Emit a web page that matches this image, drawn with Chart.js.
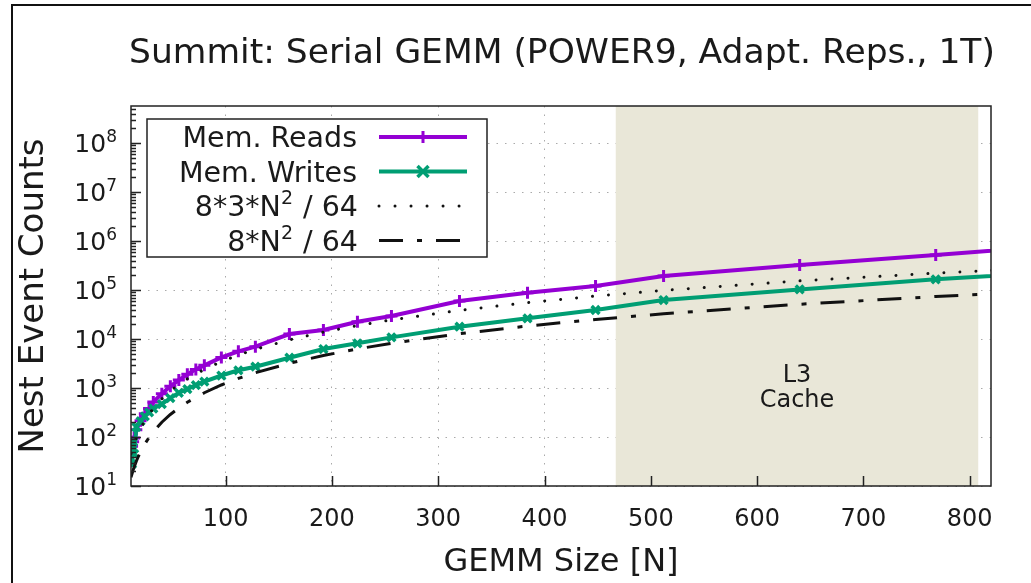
<!DOCTYPE html>
<html>
<head>
<meta charset="utf-8">
<title>Summit: Serial GEMM</title>
<script src="https://cdn.jsdelivr.net/npm/chart.js@4.4.0/dist/chart.umd.min.js"></script>
<style>
  html, body { margin: 0; padding: 0; background: #fff; }
  #wrap { width: 1031px; height: 583px; }
</style>
</head>
<body>
<div id="wrap"><canvas id="chart" width="1031" height="583"></canvas></div>
<script>
// measured GEMM sizes and counted events
const sizes = [12, 13, 14, 16, 20, 24, 28, 32, 40, 48, 56, 64, 72, 80, 96, 112, 128,
               160, 192, 224, 256, 320, 384, 448, 512, 640, 768, 896];
const memReads = [65, 80, 95, 140, 215, 300, 380, 520, 760, 1080, 1450, 1900, 2400, 2900, 4200, 5600, 6970,
                  12650, 15270, 22540, 29400, 59700, 88300, 120800, 193000, 324000, 517000, 840000];
const memWrites = [28, 80, 45, 160, 210, 265, 320, 380, 470, 620, 800, 950, 1150, 1350, 1800, 2300, 2720,
                   4150, 6250, 8170, 10800, 17800, 26400, 39100, 62500, 103000, 165000, 243000];

// reference curves (8*3*N^2/64 and 8*N^2/64)
const fitSizes = [11, 13, 14, 16, 18, 20, 24, 28, 32, 40, 48, 56, 64, 80, 96, 112, 128,
                  160, 192, 224, 256, 320, 384, 448, 512, 640, 768, 896];
const readModel = [45.4, 63.4, 73.5, 96, 121.5, 150, 216, 294, 384, 600, 864, 1176, 1536, 2400, 3456, 4704, 6144,
                   9600, 13824, 18816, 24576, 38400, 55296, 75264, 98304, 153600, 221184, 301056];
const writeModel = [15.1, 21.1, 24.5, 32, 40.5, 50, 72, 98, 128, 200, 288, 392, 512, 800, 1152, 1568, 2048,
                    3200, 4608, 6272, 8192, 12800, 18432, 25088, 32768, 51200, 73728, 100352];

const xTicks = [100, 200, 300, 400, 500, 600, 700, 800];
const yExponents = [1, 2, 3, 4, 5, 6, 7, 8];
const l3Range = [467, 808];

const purple = '#9400D3';
const green = '#009E73';
const ink = '#1a1a1a';
const FONT = '"DejaVu Sans", sans-serif';

function pts(xs, ys) {
    return xs.map((x, i) => ({ x: x, y: ys[i] }));
}

function drawMark(ctx, style, x, y, r) {
    ctx.beginPath();
    if (style === 'cross') {
        ctx.moveTo(x - r, y); ctx.lineTo(x + r, y);
        ctx.moveTo(x, y - r); ctx.lineTo(x, y + r);
    } else {
        ctx.moveTo(x - r, y - r); ctx.lineTo(x + r, y + r);
        ctx.moveTo(x - r, y + r); ctx.lineTo(x + r, y - r);
    }
    ctx.stroke();
}

// right-aligned text with superscript parts, e.g. [['8*3*N'], ['2', 1], [' / 64']]
function drawRich(ctx, parts, right, y, size) {
    const supSize = Math.round(size * 0.68);
    const widths = parts.map(p => {
        ctx.font = (p[1] ? supSize : size) + 'px ' + FONT;
        return ctx.measureText(p[0]).width;
    });
    let x = right - widths.reduce((s, w) => s + w, 0);
    ctx.textAlign = 'left';
    ctx.textBaseline = 'alphabetic';
    parts.forEach((p, i) => {
        ctx.font = (p[1] ? supSize : size) + 'px ' + FONT;
        ctx.fillText(p[0], x, p[1] ? y - size * 0.42 : y);
        x += widths[i] + (p[1] ? 1 : 0);
    });
}

const legendLabels = [
    [['Mem. Reads']],
    [['Mem. Writes']],
    [['8*3*N'], ['2', 1], [' / 64']],
    [['8*N'], ['2', 1], [' / 64']]
];

const decor = {
    id: 'decor',
    beforeDatasetsDraw(chart) {
        const { ctx, chartArea: a, scales: { x } } = chart;
        const x0 = x.getPixelForValue(l3Range[0]);
        const x1 = x.getPixelForValue(l3Range[1]);
        ctx.save();
        ctx.fillStyle = '#E9E7D8';
        ctx.fillRect(x0, a.top, x1 - x0, a.bottom - a.top);
        ctx.restore();
    },
    afterDatasetsDraw(chart) {
        const { ctx, chartArea: a, scales: { x, y } } = chart;
        ctx.save();

        // frame and inward ticks
        ctx.strokeStyle = '#222';
        ctx.lineWidth = 1.5;
        ctx.strokeRect(a.left, a.top, a.right - a.left, a.bottom - a.top);
        ctx.beginPath();
        xTicks.forEach(v => {
            const px = Math.round(x.getPixelForValue(v)) + 0.5;
            ctx.moveTo(px, a.bottom); ctx.lineTo(px, a.bottom - 10);
        });
        for (let d = 1; d <= 8; d++) {
            for (let m = 1; m <= 9; m++) {
                const v = m * Math.pow(10, d);
                if (v > y.max) continue;
                const py = Math.round(y.getPixelForValue(v)) + 0.5;
                ctx.moveTo(a.left, py); ctx.lineTo(a.left + (m === 1 ? 10 : 5), py);
            }
        }
        ctx.stroke();

        // y tick labels 10^k
        ctx.fillStyle = ink;
        yExponents.forEach(k => {
            const py = y.getPixelForValue(Math.pow(10, k));
            drawRich(ctx, [['10'], [String(k), 1]], a.left - 14, py + 9, 25);
        });

        // L3 label
        const cx = (x.getPixelForValue(l3Range[0]) + x.getPixelForValue(l3Range[1])) / 2;
        ctx.font = '24px ' + FONT;
        ctx.textAlign = 'center';
        ctx.textBaseline = 'middle';
        ctx.fillText('L3', cx, a.top + 270);
        ctx.fillText('Cache', cx, a.top + 295);

        // legend box
        const lx = a.left + 16, ly = a.top + 13;
        ctx.fillStyle = '#fff';
        ctx.fillRect(lx, ly, 340, 138);
        ctx.strokeStyle = '#222';
        ctx.lineWidth = 1.5;
        ctx.strokeRect(lx, ly, 340, 138);

        chart.data.datasets.forEach((ds, i) => {
            const ry = a.top + 31 + i * 34.5;
            ctx.fillStyle = ink;
            drawRich(ctx, legendLabels[i], lx + 210, ry + 10, 28.5);
            ctx.strokeStyle = ds.borderColor;
            ctx.lineWidth = ds.borderWidth;
            ctx.lineCap = ds.borderCapStyle || 'butt';
            ctx.setLineDash(ds.borderDash || []);
            ctx.beginPath();
            ctx.moveTo(lx + 232, ry);
            ctx.lineTo(lx + 320, ry);
            ctx.stroke();
            ctx.setLineDash([]);
            ctx.lineCap = 'butt';
            if (ds.pointRadius > 0) {
                ctx.lineWidth = ds.pointBorderWidth;
                drawMark(ctx, ds.pointStyle, lx + 276, ry, ds.pointRadius);
            }
        });
        ctx.restore();
    },
    afterDraw(chart) {
        const { ctx, chartArea: a } = chart;
        ctx.save();
        ctx.fillStyle = ink;
        ctx.font = '34.5px ' + FONT;
        ctx.textAlign = 'center';
        ctx.textBaseline = 'middle';
        ctx.fillText('Summit: Serial GEMM (POWER9, Adapt. Reps., 1T)', (a.left + a.right) / 2 + 1, 54);
        // outer figure frame
        ctx.strokeStyle = '#111';
        ctx.lineWidth = 2;
        ctx.beginPath();
        ctx.moveTo(12, 583); ctx.lineTo(12, 5); ctx.lineTo(1031, 5);
        ctx.stroke();
        ctx.restore();
    }
};

new Chart(document.getElementById('chart').getContext('2d'), {
    type: 'line',
    data: {
        datasets: [
            {
                label: 'Mem. Reads',
                data: pts(sizes, memReads),
                borderColor: purple,
                backgroundColor: purple,
                borderWidth: 4,
                pointStyle: 'cross',
                pointRadius: 6,
                pointBorderWidth: 3,
                pointBorderColor: purple,
                order: 4,
            },
            {
                label: 'Mem. Writes',
                data: pts(sizes, memWrites),
                borderColor: green,
                backgroundColor: green,
                borderWidth: 4,
                pointStyle: 'crossRot',
                pointRadius: 5.5,
                pointBorderWidth: 3.5,
                pointBorderColor: green,
                order: 3,
            },
            {
                label: '8*3*N² / 64',
                data: pts(fitSizes, readModel),
                borderColor: '#111',
                borderWidth: 3,
                borderDash: [0.01, 16],
                borderCapStyle: 'round',
                pointRadius: 0,
                order: 2,
            },
            {
                label: '8*N² / 64',
                data: pts(fitSizes, writeModel),
                borderColor: '#111',
                borderWidth: 3,
                borderDash: [24, 14, 5, 14],
                pointRadius: 0,
                order: 1,
            }
        ]
    },
    options: {
        responsive: false,
        animation: false,
        layout: { padding: { top: 106, right: 40, bottom: 0, left: 0 } },
        plugins: {
            legend: { display: false },
            tooltip: { enabled: false },
        },
        scales: {
            x: {
                type: 'linear',
                min: 11,
                max: 820,
                afterBuildTicks: s => { s.ticks = xTicks.map(v => ({ value: v })); },
                afterFit: s => { s.height = 97; },
                grid: { color: '#aaa', lineWidth: 1, drawTicks: false },
                border: { display: false, dash: [1.5, 7] },
                ticks: { color: ink, font: { family: FONT, size: 24 }, padding: 19, maxRotation: 0, autoSkip: false },
                title: {
                    display: true, text: 'GEMM Size [N]', color: ink,
                    font: { family: FONT, size: 32 }, padding: { top: 0, bottom: 1 }
                },
            },
            y: {
                type: 'logarithmic',
                min: 10,
                max: 5.7e8,
                afterBuildTicks: s => { s.ticks = yExponents.map(k => ({ value: Math.pow(10, k) })); },
                afterFit: s => { s.width = 131; },
                grid: { color: '#aaa', lineWidth: 1, drawTicks: false },
                border: { display: false, dash: [1.5, 7] },
                ticks: { display: false },
                title: {
                    display: true, text: 'Nest Event Counts', color: ink,
                    font: { family: FONT, size: 34 }, padding: { top: 14, bottom: 0 }
                },
            }
        }
    },
    plugins: [decor]
});
</script>
</body>
</html>
